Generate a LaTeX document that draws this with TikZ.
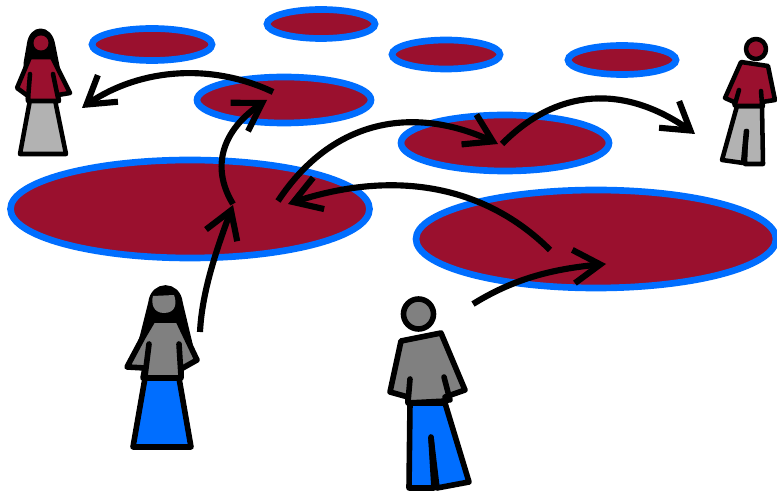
\documentclass[tikz,border=0pt]{standalone}
\usetikzlibrary{arrows.meta,bending}
\definecolor{wine}{RGB}{154,16,46}
\definecolor{bluec}{RGB}{0,110,255}
\definecolor{grayc}{RGB}{128,128,128}
\definecolor{lightg}{RGB}{178,178,178}
\tikzset{
 pool/.style={draw=bluec,fill=wine,line width=5pt},
 part/.style={draw=black,line width=4.2pt,line join=round,line cap=round},
 thinpart/.style={draw=black,line width=3.4pt,line join=round,line cap=round},
 crease/.style={draw=black,line width=4.2pt,line cap=round},
 thincrease/.style={draw=black,line width=3.4pt,line cap=round},
 move/.style={draw=black,line width=4.6pt,-{Straight Barb[length=20pt,width=25pt,line width=4.6pt,flex=0]}},
}
\begin{document}
\begin{tikzpicture}[x=0.75pt,y=-0.75pt]
\useasboundingbox (0,0) rectangle (777,491);
% pools
\draw[pool] (152,44.5) ellipse [x radius=60,y radius=16];
\draw[pool] (321,24) ellipse [x radius=54,y radius=14.5];
\draw[pool] (446,54.5) ellipse [x radius=54,y radius=14.5];
\draw[pool] (622,60) ellipse [x radius=54,y radius=14.5];
\draw[pool] (284,100) ellipse [x radius=87,y radius=23];
\draw[pool] (505,143) ellipse [x radius=104,y radius=28];
\draw[pool] (190,209) ellipse [x radius=179.5,y radius=49];
\draw[pool] (596,239) ellipse [x radius=180,y radius=49];
% arrows
\coordinate (a1) at (273,92); \coordinate (a2) at (82,108);
\coordinate (b1) at (233,204); \coordinate (b2) at (267,100);
\coordinate (c1) at (200,332); \coordinate (c2) at (233,205);
\coordinate (d1) at (278,201); \coordinate (d2) at (498,144);
\coordinate (e1) at (502,144); \coordinate (e2) at (695,134);
\coordinate (f1) at (550,250); \coordinate (f2) at (288,204);
\coordinate (g1) at (473,304); \coordinate (g2) at (606,264);
\draw[move] (a1) .. controls (210,62) and (135,68) .. (a2);
\draw[move] (b1) .. controls (212,170) and (218,130) .. (b2);
\draw[move] (c1) .. controls (202,290) and (218,245) .. (c2);
\draw[move] (d1) .. controls (335,115) and (420,105) .. (d2);
\draw[move] (e1) .. controls (560,85) and (630,85) .. (e2);
\draw[move] (f1) .. controls (490,190) and (400,165) .. (f2);
\draw[move] (g1) .. controls (515,278) and (555,268) .. (g2);
% large woman
\draw[part,fill=black] (143,335) -- (151,303) .. controls (153,283) and (178,283) .. (180,303) -- (190,345) -- (140,345) -- cycle;
\draw[draw=none,fill=grayc] (153,296) -- (174,295) .. controls (177,303) and (176,313) .. (164,313) .. controls (153,313) and (151,303) .. (153,296) -- cycle;
\draw[part,fill=bluec] (145,378) -- (179,378) -- (191,447) -- (133,447) -- cycle;
\draw[part,fill=grayc] (153,320) -- (178,320) -- (197,360) -- (181,369) -- (181,378) -- (143,378) -- (145,368) -- (127,367) -- (143,337) -- cycle;
\draw[crease] (149,344) -- (145,376);
\draw[crease] (179,344) -- (181,376);
% large man
\draw[part,fill=grayc] (418.5,314) circle [radius=15];
\draw[part,fill=bluec] (410,403) -- (445,403) -- (469,482) -- (437,488) -- (431,438) -- (434,488) -- (409,488) -- cycle;
\draw[crease] (431,437) -- (435,487);
\draw[part,fill=grayc] (401,341) -- (441,333) -- (465,390) -- (445,397) -- (447,401) -- (408,403) -- (408,397) -- (390,392) -- cycle;
\draw[crease] (410,379) -- (408,402);
\draw[crease] (444,377) -- (450,400);
% small woman
\draw[thinpart,fill=black] (26,62) -- (29,45) .. controls (31,26) and (50,26) .. (53,45) -- (58,70) -- (26,70) -- cycle;
\draw[draw=none,fill=wine] (41,43) circle [radius=7.5];
\draw[thinpart,fill=lightg] (30,100) -- (55,100) -- (66,154) -- (20,154) -- cycle;
\draw[thinpart,fill=wine] (30,57) -- (52,57) -- (70,93) -- (58,95) -- (59,101) -- (28,101) -- (28,96) -- (17,88) -- cycle;
\draw[thincrease] (30,74) -- (28,99);
\draw[thincrease] (53,74) -- (58,98);
% small man
\draw[thinpart,fill=wine] (756,49) circle [radius=10];
\draw[thinpart,fill=lightg] (737,106) -- (762,106) -- (763,164) -- (745,164) -- (746,131) -- (743,163) -- (722,160) -- cycle;
\draw[thincrease] (747,131) -- (744,163);
\draw[thinpart,fill=wine] (741,62) -- (768,66) -- (775,100) -- (762,102) -- (763,106) -- (735,106) -- (734,102) -- (725,98) -- cycle;
\draw[thincrease] (739,90) -- (735,104);
\draw[thincrease] (761,91) -- (762,104);
\end{tikzpicture}
\end{document}
